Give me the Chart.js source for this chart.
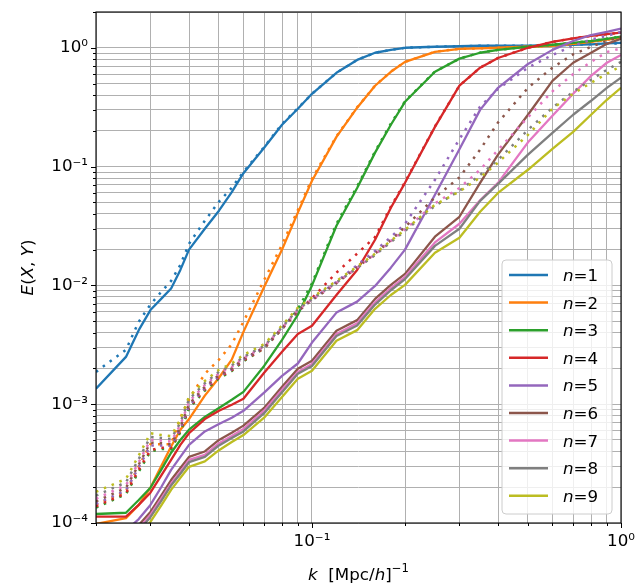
<!DOCTYPE html>
<html>
<head>
<meta charset="utf-8">
<script src="https://cdn.jsdelivr.net/npm/chart.js@4.4.0/dist/chart.umd.min.js"></script>
<style>
html, body { margin: 0; padding: 0; background: #fff; }
canvas { display: block; }
</style>
</head>
<body>
<canvas id="myChart" width="637" height="585"></canvas>
<script>
// k bins, [Mpc/h]^-1
const kValues = [0.02, 0.025, 0.0275, 0.03, 0.0325, 0.035, 0.0375, 0.04, 0.045, 0.05, 0.055, 0.06, 0.07, 0.08, 0.09, 0.1,
  0.12, 0.14, 0.16, 0.18, 0.2, 0.25, 0.3, 0.35, 0.4, 0.5, 0.6, 0.7, 0.8, 0.9, 1.0];

// solid lines
const solid1 = [1.35e-3, 2.5e-3, 4.2e-3, 6.2e-3, 7.7e-3, 9.4e-3, 0.0135, 0.020, 0.030, 0.0425, 0.061, 0.088, 0.144, 0.225, 0.307, 0.41, 0.616, 0.79, 0.908, 0.96, 1.0, 1.02, 1.03, 1.04, 1.04, 1.04, 1.05, 1.06, 1.07, 1.09, 1.10];
const solid2 = [0.98e-4, 1.1e-4, 1.42e-4, 1.98e-4, 3.0e-4, 4.4e-4, 6.1e-4, 7.5e-4, 1.18e-3, 1.67e-3, 2.37e-3, 4.06e-3, 9.7e-3, 0.020, 0.041, 0.076, 0.178, 0.313, 0.479, 0.628, 0.76, 0.925, 0.98, 0.99, 1.0, 1.02, 1.04, 1.08, 1.12, 1.17, 1.21];
const solid3 = [1.19e-4, 1.22e-4, 1.56e-4, 1.98e-4, 2.8e-4, 3.9e-4, 5.0e-4, 6.1e-4, 7.8e-4, 9.3e-4, 1.09e-3, 1.27e-3, 2.1e-3, 3.48e-3, 5.66e-3, 0.0100, 0.0318, 0.066, 0.131, 0.225, 0.351, 0.628, 0.81, 0.908, 0.96, 1.02, 1.06, 1.10, 1.14, 1.19, 1.24];
const solid4 = [1.13e-4, 1.13e-4, 1.42e-4, 1.8e-4, 2.5e-4, 3.4e-4, 4.55e-4, 5.7e-4, 7.5e-4, 8.8e-4, 9.9e-4, 1.11e-3, 1.84e-3, 2.76e-3, 3.9e-3, 4.57e-3, 8.3e-3, 0.0135, 0.0242, 0.045, 0.073, 0.216, 0.48, 0.679, 0.82, 1.0, 1.12, 1.2, 1.26, 1.3, 1.34];
const solid5 = [8.2e-5, 8.6e-5, 1.08e-4, 1.42e-4, 2.0e-4, 2.8e-4, 3.6e-4, 4.55e-4, 5.9e-4, 6.8e-4, 7.7e-4, 8.8e-4, 1.25e-3, 1.73e-3, 2.2e-3, 3.3e-3, 5.9e-3, 7.3e-3, 9.9e-3, 0.0141, 0.020, 0.058, 0.14, 0.30, 0.46, 0.73, 0.96, 1.14, 1.28, 1.36, 1.45];
const solid6 = [7.5e-5, 7.8e-5, 9.6e-5, 1.24e-4, 1.7e-4, 2.3e-4, 2.9e-4, 3.6e-4, 4.0e-4, 5.0e-4, 5.74e-4, 6.6e-4, 9.3e-4, 1.4e-3, 1.99e-3, 2.32e-3, 4.15e-3, 5.1e-3, 7.7e-3, 0.0101, 0.0125, 0.0257, 0.0378, 0.073, 0.126, 0.273, 0.527, 0.748, 0.908, 1.08, 1.19];
const solid7 = [7.0e-5, 7.3e-5, 9.0e-5, 1.17e-4, 1.6e-4, 2.15e-4, 2.7e-4, 3.4e-4, 3.75e-4, 4.7e-4, 5.4e-4, 6.2e-4, 8.8e-4, 1.32e-3, 1.87e-3, 2.18e-3, 3.9e-3, 4.8e-3, 7.2e-3, 9.5e-3, 0.0118, 0.023, 0.033, 0.052, 0.073, 0.16, 0.268, 0.41, 0.58, 0.748, 0.87];
const solid8 = [6.8e-5, 7.0e-5, 8.6e-5, 1.12e-4, 1.53e-4, 2.07e-4, 2.6e-4, 3.25e-4, 3.6e-4, 4.5e-4, 5.2e-4, 5.9e-4, 8.4e-4, 1.26e-3, 1.8e-3, 2.1e-3, 3.75e-3, 4.6e-3, 6.9e-3, 9.1e-3, 0.0113, 0.0215, 0.030, 0.0515, 0.0716, 0.126, 0.192, 0.273, 0.358, 0.46, 0.56];
const solid9 = [6.2e-5, 6.4e-5, 7.9e-5, 1.02e-4, 1.4e-4, 1.9e-4, 2.4e-4, 2.97e-4, 3.3e-4, 4.1e-4, 4.8e-4, 5.5e-4, 7.7e-4, 1.15e-3, 1.64e-3, 1.91e-3, 3.42e-3, 4.2e-3, 6.35e-3, 8.3e-3, 0.0101, 0.0188, 0.0252, 0.0416, 0.060, 0.094, 0.141, 0.196, 0.273, 0.365, 0.46];

// dotted lines
const dotted1 = [1.87e-3, 2.87e-3, 4.94e-3, 6.9e-3, 8.8e-3, 0.0109, 0.0149, 0.0224, 0.035, 0.0506, 0.0663, 0.0904, 0.146, 0.228, 0.31, 0.41, 0.616, 0.79, 0.908, 0.96, 1.0, 1.02, 1.03, 1.04, 1.04, 1.04, 1.05, 1.06, 1.07, 1.08, 1.09];
const dotted2 = [1.42e-4, 1.85e-4, 3.0e-4, 4.6e-4, 4.6e-4, 4.6e-4, 7.7e-4, 1.1e-3, 1.8e-3, 2.37e-3, 3.2e-3, 4.94e-3, 0.0111, 0.022, 0.043, 0.079, 0.18, 0.315, 0.48, 0.63, 0.76, 0.925, 0.98, 0.99, 1.0, 1.02, 1.04, 1.08, 1.12, 1.17, 1.21];
const dotted3 = [1.35e-4, 1.75e-4, 2.7e-4, 4.0e-4, 4.2e-4, 4.2e-4, 5.8e-4, 9.2e-4, 1.3e-3, 1.65e-3, 1.9e-3, 2.3e-3, 2.95e-3, 4.3e-3, 6.3e-3, 0.0104, 0.033, 0.068, 0.134, 0.23, 0.355, 0.63, 0.81, 0.91, 0.96, 1.02, 1.06, 1.10, 1.14, 1.19, 1.24];
const dotted4 = [1.38e-4, 1.78e-4, 2.8e-4, 4.1e-4, 4.3e-4, 4.3e-4, 6.0e-4, 9.4e-4, 1.33e-3, 1.68e-3, 1.93e-3, 2.33e-3, 2.95e-3, 4.3e-3, 6.0e-3, 7.8e-3, 0.0128, 0.0185, 0.0255, 0.046, 0.074, 0.218, 0.48, 0.68, 0.82, 1.0, 1.12, 1.2, 1.26, 1.3, 1.34];
const dotted5 = [1.45e-4, 1.88e-4, 2.95e-4, 4.5e-4, 4.5e-4, 4.45e-4, 6.2e-4, 9.7e-4, 1.36e-3, 1.72e-3, 1.97e-3, 2.38e-3, 3.0e-3, 4.35e-3, 6.1e-3, 7.6e-3, 0.0107, 0.0148, 0.0195, 0.0255, 0.033, 0.0774, 0.17, 0.32, 0.45, 0.68, 0.87, 1.04, 1.17, 1.26, 1.36];
const dotted6 = [1.52e-4, 1.98e-4, 3.1e-4, 4.75e-4, 4.7e-4, 4.6e-4, 6.4e-4, 1.0e-3, 1.4e-3, 1.76e-3, 2.0e-3, 2.4e-3, 3.0e-3, 4.35e-3, 6.1e-3, 7.5e-3, 0.0104, 0.0142, 0.0185, 0.024, 0.031, 0.055, 0.081, 0.139, 0.235, 0.46, 0.68, 0.88, 1.02, 1.14, 1.24];
const dotted7 = [1.6e-4, 2.08e-4, 3.25e-4, 5.0e-4, 4.95e-4, 4.85e-4, 6.7e-4, 1.05e-3, 1.45e-3, 1.82e-3, 2.06e-3, 2.45e-3, 3.05e-3, 4.4e-3, 6.2e-3, 7.6e-3, 0.0105, 0.0141, 0.0182, 0.0236, 0.0295, 0.049, 0.066, 0.094, 0.138, 0.26, 0.43, 0.60, 0.76, 0.92, 0.99];
const dotted8 = [1.7e-4, 2.2e-4, 3.45e-4, 5.3e-4, 5.2e-4, 5.1e-4, 7.0e-4, 1.1e-3, 1.5e-3, 1.88e-3, 2.12e-3, 2.5e-3, 3.1e-3, 4.45e-3, 6.3e-3, 7.7e-3, 0.0106, 0.014, 0.018, 0.0232, 0.0287, 0.0468, 0.0625, 0.085, 0.114, 0.204, 0.313, 0.426, 0.538, 0.653, 0.76];
const dotted9 = [1.83e-4, 2.35e-4, 3.7e-4, 5.7e-4, 5.5e-4, 5.4e-4, 7.4e-4, 1.16e-3, 1.57e-3, 1.95e-3, 2.2e-3, 2.6e-3, 3.2e-3, 4.6e-3, 6.5e-3, 7.9e-3, 0.0109, 0.0144, 0.0185, 0.0238, 0.0294, 0.0477, 0.0616, 0.081, 0.108, 0.185, 0.307, 0.41, 0.507, 0.604, 0.70];

const seriesNames = ['1', '2', '3', '4', '5', '6', '7', '8', '9'];
const colors = ['#1f77b4', '#ff7f0e', '#2ca02c', '#d62728', '#9467bd', '#8c564b', '#e377c2', '#7f7f7f', '#bcbd22'];

// axis decades (tick labels 10^n), minor ticks at 1..9 x 10^n
const xDecades = [-2, -1, 0];
const yDecades = [-4, -3, -2, -1, 0];
const tickSteps = [1, 2, 3, 4, 5, 6, 7, 8, 9];

const solids = [solid1, solid2, solid3, solid4, solid5, solid6, solid7, solid8, solid9];
const dotteds = [dotted1, dotted2, dotted3, dotted4, dotted5, dotted6, dotted7, dotted8, dotted9];

const FONT = '"DejaVu Sans"';
const FS = 16.7;

function tickList(decades, lo, hi) {
  let out = [];
  decades.forEach(e => tickSteps.forEach(s => {
    let v = +(s * Math.pow(10, e)).toPrecision(6);
    if (v >= lo * 0.9999 && v <= hi * 1.0001) out.push(v);
  }));
  return out;
}
const xTickVals = tickList(xDecades, 0.02, 1);
const yTickVals = tickList(yDecades, 1e-4, 2);

const sup = {'0': '⁰', '1': '¹', '2': '²', '3': '³', '4': '⁴', '5': '⁵', '6': '⁶', '7': '⁷', '8': '⁸', '9': '⁹', '-': '⁻'};
function isDecade(v) {
  let e = Math.log10(v);
  return Math.abs(e - Math.round(e)) < 1e-6;
}
function powLabel(v) {
  if (!isDecade(v)) return '';
  return '10' + String(Math.round(Math.log10(v))).split('').map(c => sup[c]).join('');
}

function pts(arr) {
  return kValues.map((k, i) => ({x: k, y: arr[i]}));
}

let datasets = [];
for (let i = 0; i < 9; i++) {
  datasets.push({
    label: 'n=' + seriesNames[i],
    data: pts(solids[i]),
    borderColor: colors[i],
    borderWidth: 2.3,
    pointRadius: 0,
    tension: 0,
    clip: 0,
    borderJoinStyle: 'round',
    order: -(2 * i)
  });
  datasets.push({
    label: '',
    data: pts(dotteds[i]),
    borderColor: colors[i],
    borderWidth: 2.5,
    borderDash: [2.5, 6],
    borderCapStyle: 'butt',
    pointRadius: 0,
    tension: 0,
    clip: 0,
    order: -(2 * i + 1)
  });
}

// draw text made of italic / upright / superscript pieces
function richText(ctx, parts, x, y, align) {
  let w = 0;
  parts.forEach(p => {
    ctx.font = (p.i ? 'italic ' : '') + (p.sup ? FS * 0.7 : FS) + 'px ' + FONT;
    p.w = ctx.measureText(p.t).width;
    w += p.w;
  });
  let cx = align == 'center' ? x - w / 2 : x;
  parts.forEach(p => {
    ctx.font = (p.i ? 'italic ' : '') + (p.sup ? FS * 0.7 : FS) + 'px ' + FONT;
    ctx.fillText(p.t, cx, y - (p.sup ? 8 : 0));
    cx += p.w;
  });
}

const decor = {
  id: 'decor',
  afterDraw(chart) {
    const ctx = chart.ctx;
    const a = chart.chartArea;
    const xs = chart.scales.x, ys = chart.scales.y;
    ctx.save();
    // frame
    ctx.strokeStyle = '#000';
    ctx.lineWidth = 1.1;
    ctx.strokeRect(a.left, a.top, a.right - a.left, a.bottom - a.top);
    // tick marks
    ctx.lineWidth = 1;
    ctx.beginPath();
    xs.ticks.forEach(t => {
      let px = Math.round(xs.getPixelForValue(t.value)) + 0.5;
      ctx.moveTo(px, a.bottom);
      ctx.lineTo(px, a.bottom + (isDecade(t.value) ? 5 : 3));
    });
    ys.ticks.forEach(t => {
      let py = Math.round(ys.getPixelForValue(t.value)) + 0.5;
      ctx.moveTo(a.left, py);
      ctx.lineTo(a.left - (isDecade(t.value) ? 5 : 3), py);
    });
    ctx.stroke();

    // legend
    const lw = 110, lh = 254;
    const lx = a.right - 9 - lw, ly = a.bottom - 9 - lh;
    ctx.beginPath();
    ctx.roundRect(lx, ly, lw, lh, 4);
    ctx.fillStyle = 'rgba(255,255,255,0.8)';
    ctx.fill();
    ctx.strokeStyle = '#cccccc';
    ctx.lineWidth = 1;
    ctx.stroke();
    for (let i = 0; i < 9; i++) {
      let yy = ly + 15 + i * 27.6;
      ctx.beginPath();
      ctx.strokeStyle = colors[i];
      ctx.lineWidth = 2.5;
      ctx.moveTo(lx + 7, yy);
      ctx.lineTo(lx + 46, yy);
      ctx.stroke();
      ctx.fillStyle = '#000';
      ctx.textBaseline = 'alphabetic';
      richText(ctx, [{t: 'n', i: true}, {t: '=' + seriesNames[i]}], lx + 61, yy + 6, 'left');
    }

    // axis titles
    ctx.fillStyle = '#000';
    ctx.textBaseline = 'alphabetic';
    richText(ctx, [{t: 'k', i: true}, {t: '  [Mpc/'}, {t: 'h', i: true}, {t: ']'}, {t: '\u22121', sup: true}],
      (a.left + a.right) / 2, 580, 'center');
    ctx.translate(33, (a.top + a.bottom) / 2);
    ctx.rotate(-Math.PI / 2);
    richText(ctx, [{t: 'E', i: true}, {t: '('}, {t: 'X', i: true}, {t: ', '}, {t: 'Y', i: true}, {t: ')'}], 0, 0, 'center');
    ctx.restore();
  }
};

const ctx = document.getElementById('myChart');
const myChart = new Chart(ctx, {
  type: 'line',
  data: {datasets: datasets},
  options: {
    responsive: false,
    animation: false,
    events: [],
    layout: {padding: {left: 0, right: 16, top: 12, bottom: 0}},
    plugins: {legend: {display: false}, tooltip: {enabled: false}},
    scales: {
      x: {
        type: 'logarithmic',
        min: 0.02,
        max: 1,
        afterBuildTicks: ax => { ax.ticks = xTickVals.map(v => ({value: v})); },
        afterFit: ax => { ax.height = 62; ax.paddingLeft = 0; ax.paddingRight = 0; },
        grid: {color: '#b0b0b0', lineWidth: 1, drawTicks: false},
        border: {display: false},
        ticks: {autoSkip: false, maxRotation: 0, padding: 9, color: '#000', font: {family: FONT, size: FS}, callback: v => powLabel(v)}
      },
      y: {
        type: 'logarithmic',
        min: 1e-4,
        max: 2,
        afterBuildTicks: ax => { ax.ticks = yTickVals.map(v => ({value: v})); },
        afterFit: ax => { ax.width = 96; ax.paddingTop = 0; ax.paddingBottom = 0; },
        grid: {color: '#b0b0b0', lineWidth: 1, drawTicks: false},
        border: {display: false},
        ticks: {autoSkip: false, padding: 8, color: '#000', font: {family: FONT, size: FS}, callback: v => powLabel(v)}
      }
    }
  },
  plugins: [decor]
});
</script>
</body>
</html>
